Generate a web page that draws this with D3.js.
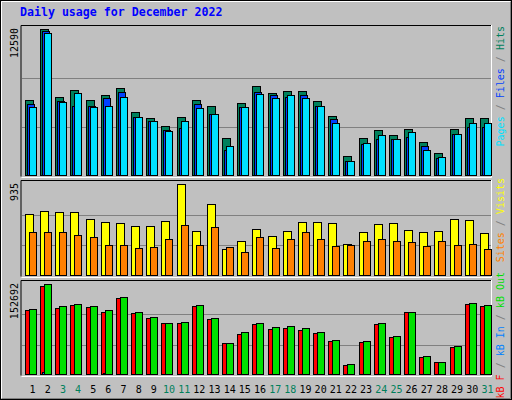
<!DOCTYPE html>
<html><head><meta charset="utf-8">
<script src="https://cdn.jsdelivr.net/npm/d3@7"></script>
<style>body{margin:0;background:#fff}</style></head><body>
<svg id="c" width="512" height="400"></svg>
<script>
const days = d3.range(1, 32);
const weekend = [3,4,10,11,17,18,24,25,31];
const hits  = [6527,12590,6783,7382,6527,6954,7553,5501,4988,4304,5073,6527,6014,3278,6270,7724,7125,7296,7296,6441,5159,1739,3278,3962,3534,4047,2936,1995,4047,4988,4988];
const files = [6185,12398,6441,6014,6014,6698,7211,5073,4731,3962,4133,6185,5330,2252,5928,7211,6954,6783,6954,6014,4902,1311,2765,3192,3192,3363,2594,1568,3620,4218,4218];
const pages = [5928,12255,6356,7125,5928,6014,6783,5073,4731,3876,4731,5843,5330,2594,5928,7040,6698,6954,6698,6014,4560,1311,2850,3534,3192,3791,2252,1653,3620,4560,4560];
const visits = [630,661,650,650,579,549,539,508,508,559,935,457,732,274,356,478,407,457,549,549,539,325,447,529,539,468,447,457,579,569,437];
const sites  = [447,447,447,417,396,315,315,285,295,376,518,315,498,295,244,396,285,376,447,376,305,315,356,376,356,346,305,356,315,325,274];
const kbF   = [108615,148719,111957,116970,113628,105273,128667,103602,95247,86892,86892,115299,93576,53472,68511,85221,76866,78537,75195,70182,56814,16710,55143,85221,63498,105273,30078,21723,46788,118641,115299];
const kbIn  = [2500,5000,2000,2000,2000,3500,2500,2500,800,800,2000,800,2000,800,2000,2000,2000,800,2000,2000,800,800,800,800,800,800,800,800,800,2000,2000];
const kbOut = [110286,152692,115299,118641,115299,108615,130338,105273,96918,86892,88563,116970,95247,53472,71853,86892,80208,81879,78537,71853,58485,18381,56814,86892,65169,105273,31749,21723,48459,120312,116970];

const svg = d3.select('#c');
const mono = 'DejaVu Sans Mono, monospace';
svg.append('rect').attr('x',0).attr('y',0).attr('width',512).attr('height',400).attr('fill','#c0c0c0');
svg.append('rect').attr('x',0.5).attr('y',0.5).attr('width',511).attr('height',399).attr('fill','none').attr('stroke','#000');
svg.append('path').attr('d','M1.5,398V1.5H510').attr('stroke','#fff').attr('fill','none');
svg.append('path').attr('d','M2,398.5H510.5V2').attr('stroke','#808080').attr('fill','none');
svg.append('text').attr('x',20).attr('y',16).attr('font-family',mono).attr('font-weight','bold')
  .attr('font-size',11.6).attr('fill','#0000ff').text('Daily usage for December 2022');

const x = d3.scaleBand().domain(days).range([21,491]).paddingInner(0);

function panel(y0,y1,max,series,legend,labelY){
  const y = d3.scaleLinear().domain([0,max]).range([y1,labelY]);
  svg.append('path').attr('d',`M21,${y1+0.5}V${y0+0.5}H491`).attr('stroke','#000').attr('fill','none');
  svg.append('path').attr('d',`M21.5,${y1+1.5}H491.5V${y0}`).attr('stroke','#fff').attr('fill','none');
  [max/3,2*max/3].forEach(v=>{
    svg.append('line').attr('x1',22).attr('x2',491).attr('y1',Math.round(y(v))+0.5).attr('y2',Math.round(y(v))+0.5)
      .attr('stroke','#808080');
  });
  series.forEach(s=>{
    svg.append('g').selectAll('rect').data(s.data).join('rect')
      .attr('x',(d,i)=>Math.round(x(days[i]))+s.off+0.5)
      .attr('width',s.w)
      .attr('y',d=>Math.round(y(d))+0.5)
      .attr('height',d=>Math.max(0,Math.round(y1-y(d))-1))
      .attr('fill',s.color).attr('stroke','#000');
  });
  svg.append('text').attr('transform',`translate(18,${labelY-1}) rotate(-90)`).attr('text-anchor','end')
    .attr('font-family',mono).attr('font-size',10).attr('fill','#000').text(d3.format('d')(max));
  const t = svg.append('text').attr('transform',`translate(504,${legend.top}) rotate(-90)`).attr('text-anchor','end')
    .attr('font-family',mono).attr('font-size',10);
  legend.parts.forEach(p=>t.append('tspan').attr('fill',p[1]).text(p[0]));
}

panel(25,176,12590,[
  {data:hits,color:'#00805c',off:4,w:8},
  {data:files,color:'#0040ff',off:6,w:7},
  {data:pages,color:'#00e0ff',off:8,w:7}
],{top:26,parts:[['Pages','#00e0ff'],[' / ','#808080'],['Files','#0040ff'],[' / ','#808080'],['Hits','#00805c']]},29);

panel(180,276,935,[
  {data:visits,color:'#ffff00',off:4,w:8},
  {data:sites,color:'#ff8000',off:8,w:7}
],{top:178,parts:[['Sites','#ff8000'],[' / ','#808080'],['Visits','#ffff00']]},184);

panel(280,375,152692,[
  {data:kbF,color:'#ff0000',off:4,w:5},
  {data:kbIn,color:'#0080ff',off:6,w:2},
  {data:kbOut,color:'#00e000',off:8,w:7}
],{top:272,parts:[['kB F','#ff0000'],[' / ','#808080'],['kB In','#0080ff'],[' / ','#808080'],['kB Out','#00e000']]},284);

svg.append('g').selectAll('text').data(days).join('text')
  .attr('x',d=>x(d)+x.bandwidth()/2+4).attr('y',393).attr('text-anchor','middle')
  .attr('font-family',mono).attr('font-size',10)
  .attr('fill',d=>weekend.includes(d)?'#00805c':'#000').text(d=>d);
</script></body></html>
